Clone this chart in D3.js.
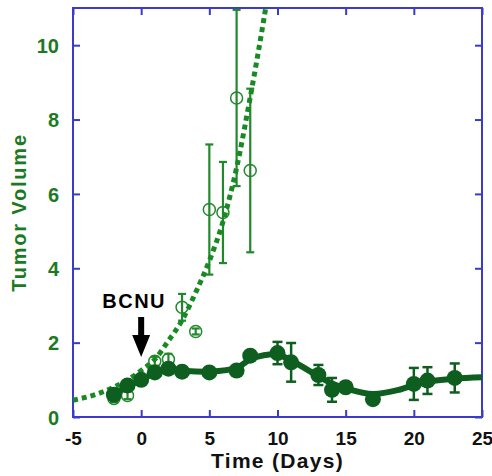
<!DOCTYPE html>
<html>
<head>
<meta charset="utf-8">
<script src="https://cdn.jsdelivr.net/npm/d3@7"></script>
<style>
  body { margin: 0; background: #fff; }
  svg text { font-family: "Liberation Sans", Arial, Helvetica, sans-serif; font-weight: bold; }
</style>
</head>
<body>
<svg id="chart" width="492" height="476"></svg>
<script>
// untreated tumours (open circles) and their growth curve
var openDays = [-2, -1, 1, 2, 3, 4, 5, 6, 7, 8];
var openValues = [0.5, 0.58, 1.5, 1.55, 2.95, 2.3, 5.58, 5.5, 8.58, 6.63];
var openErrors = [0.1, 0.1, 0.12, 0.15, 0.36, 0.08, 1.75, 1.36, 2.37, 2.2];

var growthDays = [-5, -3, -1, 0, 1, 2, 3, 4, 5, 6, 7, 8, 9, 9.4];
var growthValues = [0.45, 0.65, 1.0, 1.25, 1.55, 2.05, 2.6, 3.35, 4.2, 5.25, 6.7, 8.6, 10.7, 11.6];

// BCNU-treated tumours (filled circles) and their smooth curve
var treatedDays = [-2, -1, 0, 1, 2, 3, 5, 7, 8, 10, 11, 13, 14, 15, 17, 20, 21, 23];
var treatedValues = [0.6, 0.85, 1.0, 1.2, 1.3, 1.22, 1.2, 1.25, 1.65, 1.72, 1.47, 1.13, 0.73, 0.8, 0.48, 0.89, 0.98, 1.05];
var treatedErrors = [0, 0, 0, 0, 0, 0, 0, 0, 0, 0.3, 0.52, 0.27, 0.32, 0, 0, 0.43, 0.36, 0.39];

var fitDays = [-2, -1, 0, 1, 2, 3, 5, 7, 8, 9, 10, 11, 13, 14, 15, 17, 19, 20, 21, 23, 25];
var fitValues = [0.62, 0.82, 1.0, 1.18, 1.27, 1.24, 1.22, 1.32, 1.55, 1.66, 1.68, 1.52, 1.1, 0.9, 0.77, 0.62, 0.74, 0.86, 0.95, 1.03, 1.07];

var xTicks = [-5, 0, 5, 10, 15, 20, 25];
var yTicks = [0, 2, 4, 6, 8, 10];

var margin = {left: 73, right: 10, top: 8, bottom: 59};
var width = 492 - margin.left - margin.right;
var height = 476 - margin.top - margin.bottom;

var axisBlue = '#3a3acc';
var darkGreen = '#0e5f1f';
var openGreen = '#22882c';
var labelGreen = '#1b7a1f';

var svg = d3.select('#chart');
var g = svg.append('g')
  .attr('transform', 'translate(' + margin.left + ',' + margin.top + ')');

var x = d3.scaleLinear().domain([-5, 25]).range([0, width]);
var y = d3.scaleLinear().domain([0, 11.0]).range([height, 0]);

g.append('clipPath').attr('id', 'plot-clip')
  .append('rect').attr('width', width).attr('height', height);

// plain hyphen for negatives, like the original figure
var tickFmt = function (d) { return String(d); };

// frame with inward ticks on all four sides
function styleAxis(sel) {
  sel.select('.domain').remove();
  sel.selectAll('.tick line').attr('stroke', axisBlue).attr('stroke-width', 2);
}

var xBottom = g.append('g').attr('transform', 'translate(0,' + height + ')')
  .call(d3.axisBottom(x).tickValues(xTicks).tickSize(-7).tickPadding(15).tickFormat(tickFmt))
  .call(styleAxis);
xBottom.selectAll('.tick text')
  .attr('fill', '#111').style('font-size', '19px');

g.append('g')
  .call(d3.axisTop(x).tickValues(xTicks).tickSize(-7).tickFormat(''))
  .call(styleAxis);

var yLeft = g.append('g')
  .call(d3.axisLeft(y).tickValues(yTicks).tickSize(-7).tickPadding(14).tickFormat(tickFmt))
  .call(styleAxis);
yLeft.selectAll('.tick text')
  .attr('fill', labelGreen).attr('dy', '0.36em').style('font-size', '20px');

g.append('g').attr('transform', 'translate(' + width + ',0)')
  .call(d3.axisRight(y).tickValues(yTicks).tickSize(-7).tickFormat(''))
  .call(styleAxis);

g.append('rect')
  .attr('width', width).attr('height', height)
  .attr('fill', 'none').attr('stroke', axisBlue).attr('stroke-width', 2);

// axis titles
svg.append('text')
  .attr('x', margin.left + width / 2).attr('y', 468)
  .attr('text-anchor', 'middle').attr('fill', '#111')
  .style('font-size', '21px').style('letter-spacing', '1.3px')
  .text('Time (Days)');

svg.append('text')
  .attr('transform', 'translate(26,' + (margin.top + height / 2) + ') rotate(-90)')
  .attr('text-anchor', 'middle').attr('fill', labelGreen)
  .style('font-size', '20px').style('letter-spacing', '1.8px')
  .text('Tumor Volume');

var plot = g.append('g').attr('clip-path', 'url(#plot-clip)');

// untreated: error bars, growth curve, open circles
var openData = openDays.map(function (d, i) {
  return {day: d, v: openValues[i], e: openErrors[i]};
});

function drawErrorBars(sel, data, color, lw, cap) {
  var bars = sel.selectAll(null).data(data.filter(function (d) { return d.e > 0; }))
    .enter().append('g')
    .attr('stroke', color).attr('stroke-width', lw);
  bars.append('line')
    .attr('x1', function (d) { return x(d.day); })
    .attr('x2', function (d) { return x(d.day); })
    .attr('y1', function (d) { return y(d.v + d.e); })
    .attr('y2', function (d) { return y(d.v - d.e); });
  bars.append('line')
    .attr('x1', function (d) { return x(d.day) - cap; })
    .attr('x2', function (d) { return x(d.day) + cap; })
    .attr('y1', function (d) { return y(d.v + d.e); })
    .attr('y2', function (d) { return y(d.v + d.e); });
  bars.append('line')
    .attr('x1', function (d) { return x(d.day) - cap; })
    .attr('x2', function (d) { return x(d.day) + cap; })
    .attr('y1', function (d) { return y(d.v - d.e); })
    .attr('y2', function (d) { return y(d.v - d.e); });
}

drawErrorBars(plot, openData, openGreen, 2.2, 4);

var growthLine = d3.line()
  .x(function (d) { return x(d[0]); })
  .y(function (d) { return y(d[1]); })
  .curve(d3.curveMonotoneX);

plot.append('path')
  .datum(growthDays.map(function (d, i) { return [d, growthValues[i]]; }))
  .attr('d', growthLine)
  .attr('fill', 'none')
  .attr('stroke', '#178a22')
  .attr('stroke-width', 5)
  .attr('stroke-dasharray', '5,4');

plot.selectAll('.open-pt').data(openData).enter().append('circle')
  .attr('class', 'open-pt')
  .attr('cx', function (d) { return x(d.day); })
  .attr('cy', function (d) { return y(d.v); })
  .attr('r', 6)
  .attr('fill', 'none')
  .attr('stroke', openGreen)
  .attr('stroke-width', 1.5);

// treated: smooth curve, filled circles, error bars
var fitLine = d3.line()
  .x(function (d) { return x(d[0]); })
  .y(function (d) { return y(d[1]); })
  .curve(d3.curveCatmullRom);

plot.append('path')
  .datum(fitDays.map(function (d, i) { return [d, fitValues[i]]; }))
  .attr('d', fitLine)
  .attr('fill', 'none')
  .attr('stroke', darkGreen)
  .attr('stroke-width', 6);

var treatedData = treatedDays.map(function (d, i) {
  return {day: d, v: treatedValues[i], e: treatedErrors[i]};
});

plot.selectAll('.filled-pt').data(treatedData).enter().append('circle')
  .attr('class', 'filled-pt')
  .attr('cx', function (d) { return x(d.day); })
  .attr('cy', function (d) { return y(d.v); })
  .attr('r', 8)
  .attr('fill', darkGreen);

drawErrorBars(plot, treatedData, darkGreen, 2.5, 5);

// BCNU annotation with arrow at day 0
var ax = x(0);
svg.append('text')
  .attr('x', margin.left + ax - 7).attr('y', 308)
  .attr('text-anchor', 'middle').attr('fill', '#000')
  .style('font-size', '20px').style('letter-spacing', '1.5px')
  .text('BCNU');

var arrowTop = 317, arrowTip = 357, headLen = 22, headHalf = 9, shaftHalf = 3;
var cx = margin.left + ax;
svg.append('path')
  .attr('d', d3.line()([
    [cx - shaftHalf, arrowTop], [cx + shaftHalf, arrowTop],
    [cx + shaftHalf, arrowTip - headLen], [cx + headHalf, arrowTip - headLen],
    [cx, arrowTip], [cx - headHalf, arrowTip - headLen],
    [cx - shaftHalf, arrowTip - headLen]
  ]) + 'Z')
  .attr('fill', '#000');
</script>
</body>
</html>
